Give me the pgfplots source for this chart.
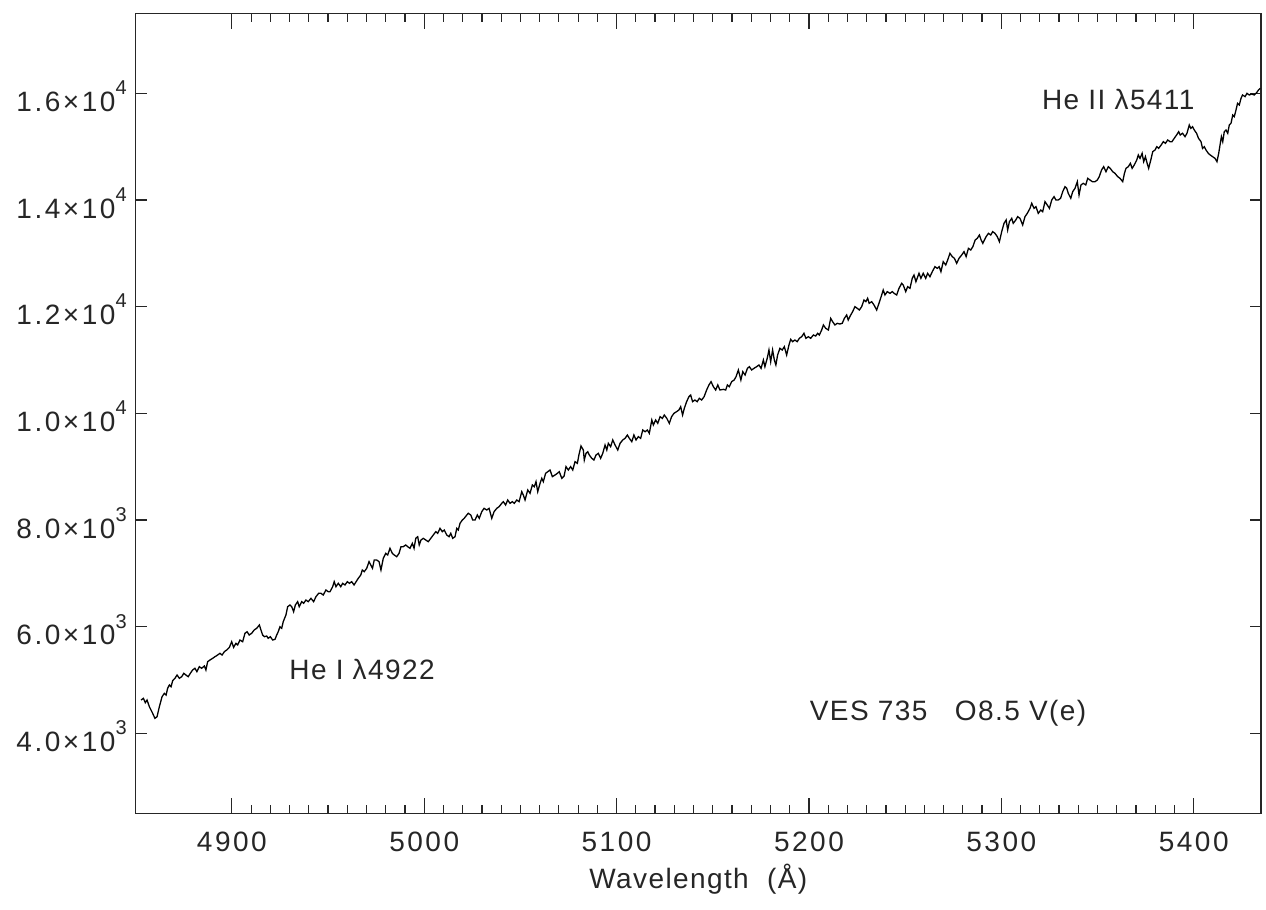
\documentclass[border=0pt]{standalone}
\usepackage{fontspec}
\setmainfont{Liberation Sans}[LetterSpace=5]
\newfontfamily\tickfont{Liberation Sans}[LetterSpace=9]
\usepackage{pgfplots}
\usepackage{pgfplotstable}
\pgfplotsset{compat=1.18}
\newcommand\ex[1]{\raisebox{0.6em}{\fontsize{10}{10}\selectfont #1}}
\newcommand\lab{\fontsize{14}{16}\selectfont}
\newcommand\tlab{\tickfont\fontsize{14}{16}\selectfont}
\pgfplotstableread{
x y
4852.8 4624
4854.0 4656
4855.0 4574
4855.9 4624
4857.1 4499
4858.8 4375
4860.0 4281
4861.1 4311
4862.3 4499
4863.7 4686
4864.9 4750
4865.8 4718
4866.6 4844
4867.5 4906
4868.4 4874
4869.2 4986
4870.4 5031
4871.5 5093
4872.7 5031
4873.9 5061
4875.0 5125
4876.1 5093
4877.3 5061
4878.4 5125
4879.6 5187
4880.8 5219
4881.8 5156
4883.1 5249
4884.3 5219
4885.7 5262
4886.5 5187
4887.4 5343
4888.6 5374
4890.0 5406
4891.2 5436
4892.6 5468
4893.8 5500
4894.9 5468
4896.1 5530
4897.3 5562
4898.7 5612
4899.9 5717
4900.9 5612
4902.1 5687
4903.0 5656
4904.2 5749
4905.6 5717
4906.8 5875
4907.9 5905
4909.0 5843
4910.3 5875
4911.6 5937
4912.9 5969
4914.3 6031
4915.1 5937
4916.0 5843
4916.9 5811
4918.1 5824
4918.9 5781
4920.0 5811
4921.2 5749
4922.4 5762
4923.3 5843
4924.1 5905
4925.0 5999
4925.9 5969
4926.7 6093
4928.1 6218
4929.0 6374
4930.2 6406
4931.1 6374
4932.1 6280
4933.0 6406
4934.2 6468
4935.0 6374
4936.3 6468
4937.3 6438
4938.5 6499
4939.7 6468
4941.1 6531
4942.5 6468
4943.7 6561
4945.1 6625
4946.3 6625
4947.5 6593
4948.9 6687
4950.1 6655
4951.0 6655
4952.4 6749
4953.2 6843
4954.1 6749
4955.3 6812
4956.6 6749
4957.6 6812
4958.8 6781
4960.0 6843
4961.1 6812
4962.3 6843
4963.5 6781
4964.6 6843
4965.7 6906
4967.0 6968
4967.8 7062
4968.8 7031
4970.1 7094
4971.3 7218
4972.2 7156
4973.1 7094
4974.0 7249
4975.3 7249
4976.5 7218
4977.5 7062
4978.7 7281
4980.0 7374
4981.0 7343
4982.2 7469
4983.4 7374
4984.4 7343
4985.7 7311
4986.9 7374
4987.9 7499
4989.1 7499
4990.4 7531
4991.4 7499
4992.6 7469
4993.8 7562
4994.7 7469
4995.6 7656
4996.6 7686
4997.4 7531
4998.3 7624
4999.5 7656
5000.8 7624
5002.1 7593
5003.4 7656
5004.7 7718
5006.0 7780
5007.0 7749
5008.2 7843
5009.4 7780
5010.4 7812
5011.7 7718
5012.9 7686
5013.8 7749
5014.8 7656
5016.0 7686
5016.9 7843
5017.7 7812
5018.6 7937
5019.8 7999
5020.8 8031
5022.1 8093
5022.9 8125
5024.2 8093
5025.2 7999
5026.4 7999
5027.6 8093
5028.6 8031
5029.9 8155
5031.1 8218
5032.5 8187
5033.7 8218
5035.1 8031
5036.3 8155
5037.7 8218
5038.9 8249
5040.3 8312
5041.1 8343
5042.3 8281
5043.4 8374
5044.6 8312
5045.8 8343
5046.8 8312
5048.1 8374
5049.3 8343
5050.7 8530
5051.5 8468
5052.4 8374
5053.8 8562
5055.0 8500
5056.2 8656
5057.2 8624
5058.1 8718
5059.0 8530
5060.2 8687
5061.1 8781
5061.9 8718
5063.1 8874
5064.2 8905
5065.4 8937
5066.6 8812
5068.0 8843
5069.2 8874
5070.2 8905
5071.5 8781
5072.7 8824
5073.7 9000
5074.9 8937
5076.1 9000
5077.2 8937
5078.4 9093
5079.6 9062
5080.4 9218
5081.5 9387
5082.7 9312
5083.2 9124
5084.1 9249
5085.0 9280
5085.8 9218
5087.1 9156
5088.2 9124
5089.3 9218
5090.5 9249
5091.7 9156
5092.8 9249
5094.0 9405
5094.9 9312
5095.7 9437
5096.9 9374
5098.0 9500
5099.2 9405
5100.6 9312
5101.8 9437
5103.2 9500
5104.4 9531
5105.6 9593
5106.6 9531
5107.9 9468
5109.0 9593
5110.1 9500
5111.3 9562
5112.5 9531
5113.6 9687
5114.8 9655
5116.0 9687
5117.0 9624
5118.3 9874
5119.1 9781
5120.3 9874
5121.4 9812
5122.6 9937
5123.8 9905
5124.8 9968
5126.1 9905
5127.4 9812
5128.6 9937
5129.8 9999
5131.2 10031
5132.4 10062
5133.3 10124
5134.3 9968
5135.2 10093
5136.4 10218
5137.6 10312
5138.5 10343
5139.5 10218
5140.7 10249
5141.9 10218
5143.0 10281
5144.2 10249
5145.5 10312
5146.8 10437
5148.0 10531
5149.1 10593
5150.3 10499
5151.5 10437
5152.6 10531
5153.7 10437
5155.5 10449
5156.7 10437
5157.6 10531
5158.6 10499
5159.8 10593
5161.1 10624
5162.1 10687
5163.3 10812
5164.6 10624
5165.6 10780
5166.8 10718
5168.0 10843
5169.0 10874
5170.2 10812
5171.4 10843
5172.8 10874
5174.0 10906
5175.1 10843
5176.3 10999
5177.1 10874
5178.3 11031
5179.2 11187
5180.1 10968
5181.1 11187
5182.0 10999
5182.8 10906
5183.7 11093
5184.9 11219
5186.1 11187
5187.2 11249
5188.4 11093
5189.6 11281
5190.5 11387
5191.5 11343
5192.7 11374
5193.9 11343
5195.0 11406
5196.2 11436
5197.4 11500
5198.4 11406
5199.7 11436
5200.9 11406
5202.3 11468
5203.5 11449
5204.5 11500
5205.4 11468
5206.6 11562
5207.5 11656
5208.7 11593
5210.1 11562
5211.3 11780
5212.3 11718
5213.5 11656
5214.7 11687
5216.1 11674
5217.3 11687
5218.4 11780
5219.6 11843
5220.4 11749
5221.7 11843
5222.7 11905
5223.9 11999
5225.1 11968
5226.2 11937
5227.4 11999
5228.6 12124
5229.6 12093
5230.5 12156
5231.3 12062
5232.6 12093
5233.8 12031
5235.2 11937
5236.4 12062
5237.8 12218
5238.6 12312
5239.5 12218
5240.7 12281
5242.1 12249
5243.3 12281
5244.3 12249
5245.6 12218
5246.8 12343
5248.2 12437
5249.0 12406
5250.3 12281
5251.3 12374
5252.5 12343
5253.7 12531
5254.6 12593
5255.6 12468
5257.2 12625
5258.2 12531
5259.4 12625
5260.7 12531
5261.7 12625
5262.9 12561
5264.1 12655
5265.5 12749
5266.7 12718
5267.7 12749
5268.6 12655
5269.8 12843
5271.1 12781
5272.1 12874
5273.3 12999
5274.5 12937
5275.6 12906
5276.8 12812
5278.0 12906
5279.4 12968
5280.6 13031
5281.7 12937
5282.9 13093
5284.1 13062
5285.2 13124
5286.4 13249
5287.5 13281
5288.6 13343
5289.5 13249
5290.4 13187
5291.2 13249
5292.1 13312
5293.3 13374
5294.5 13343
5295.5 13406
5296.7 13374
5297.9 13312
5299.0 13218
5300.2 13406
5301.4 13562
5302.5 13624
5303.3 13437
5304.2 13593
5305.4 13655
5306.2 13562
5307.5 13624
5308.5 13687
5309.7 13655
5311.1 13531
5312.3 13687
5313.5 13749
5314.9 13843
5315.8 13937
5317.0 13843
5318.0 13874
5319.2 13749
5320.5 13812
5321.5 13780
5322.7 13968
5323.9 13905
5325.0 13843
5326.2 13999
5327.4 14062
5328.4 13999
5329.6 13999
5330.8 14031
5331.9 14155
5333.1 14249
5334.0 14218
5334.8 14124
5336.1 14031
5337.1 14155
5338.3 14218
5339.5 14343
5340.4 14093
5341.4 14281
5342.6 14312
5343.9 14281
5344.9 14406
5346.1 14374
5347.3 14343
5348.7 14343
5349.9 14374
5350.9 14437
5352.1 14562
5353.2 14624
5354.4 14530
5355.6 14624
5356.6 14593
5357.9 14530
5359.1 14499
5360.5 14437
5361.7 14405
5363.1 14343
5364.0 14499
5364.8 14593
5366.0 14624
5367.1 14687
5368.0 14593
5369.1 14655
5370.4 14749
5371.2 14843
5372.1 14780
5373.2 14874
5374.0 14718
5374.9 14812
5375.8 14687
5376.6 14593
5377.9 14780
5378.7 14905
5379.9 14937
5380.8 14999
5381.8 14968
5383.1 15031
5384.2 15093
5385.3 15062
5386.5 15124
5387.7 15093
5388.7 15093
5389.9 15156
5391.1 15218
5392.2 15280
5393.0 15218
5394.2 15250
5395.5 15187
5396.5 15250
5397.7 15405
5398.5 15343
5399.4 15374
5400.3 15312
5401.5 15250
5402.5 15156
5403.8 15093
5404.6 14968
5405.5 14999
5406.4 14937
5407.6 14874
5408.6 14843
5409.8 14812
5411.1 14780
5412.1 14718
5413.0 14874
5413.7 15031
5414.4 15187
5415.1 15093
5415.9 15280
5416.8 15312
5417.7 15250
5418.5 15405
5419.4 15437
5420.3 15593
5421.1 15562
5422.0 15687
5422.8 15812
5423.7 15781
5424.6 15906
5425.4 15968
5426.7 15937
5427.7 15999
5428.9 15968
5430.1 15987
5431.5 15968
5432.7 16012
5433.7 16062
5434.6 16093
}\spectrum
\begin{document}
\begin{tikzpicture}
\begin{axis}[name=ax, scale only axis, width=562.65pt, height=400pt,
  xmin=4850, xmax=5435, ymin=2500, ymax=17500,
  axis line style={line width=0.6pt, black!85},
  tick align=inside,
  xtick pos=both, ytick pos=both,
  every tick/.style={black!85, line width=0.6pt},
  xtick={4900,5000,5100,5200,5300,5400},
  xticklabels={4900,5000,5100,5200,5300,5400},
  minor x tick num=9,
  x tick style={/pgfplots/major tick length=7.8pt,/pgfplots/minor tick length=4.3pt},
  y tick style={/pgfplots/major tick length=5.5pt},
  ytick={4000,6000,8000,10000,12000,14000,16000},
  yticklabels={4.0×10\ex{3},6.0×10\ex{3},8.0×10\ex{3},1.0×10\ex{4},1.2×10\ex{4},1.4×10\ex{4},1.6×10\ex{4}},
  ticklabel style={font=\tlab, text=black!85},
  xticklabel style={yshift=-6pt},
  yticklabel style={xshift=-1pt, yshift=-1.5pt},
  xlabel={Wavelength\ \ (Å)},
  x label style={at={(axis description cs:0.5,0)}, anchor=base, yshift=-37.5pt, font=\lab, text=black!85},
]
\addplot[black, line width=0.65pt, mark=none] table[x=x,y=y] {\spectrum};
\node[anchor=base west, font=\lab, text=black!85, inner sep=0pt] at (axis cs:5321,15687) {He\ II\ λ5411};
\node[anchor=base west, font=\lab, text=black!85, inner sep=0pt] at (axis cs:4929.7,5000) {He\ I\ λ4922};
\node[anchor=base west, font=\lab, text=black!85, inner sep=0pt] at (axis cs:5200.3,4249) {VES 735\ \ \ O8.5 V(e)};
\end{axis}
\pgfresetboundingbox
\path ([xshift=-67.85pt,yshift=-47.85pt]ax.south west) rectangle ([xshift=2.5pt,yshift=6.65pt]ax.north east);
\end{tikzpicture}
\end{document}
